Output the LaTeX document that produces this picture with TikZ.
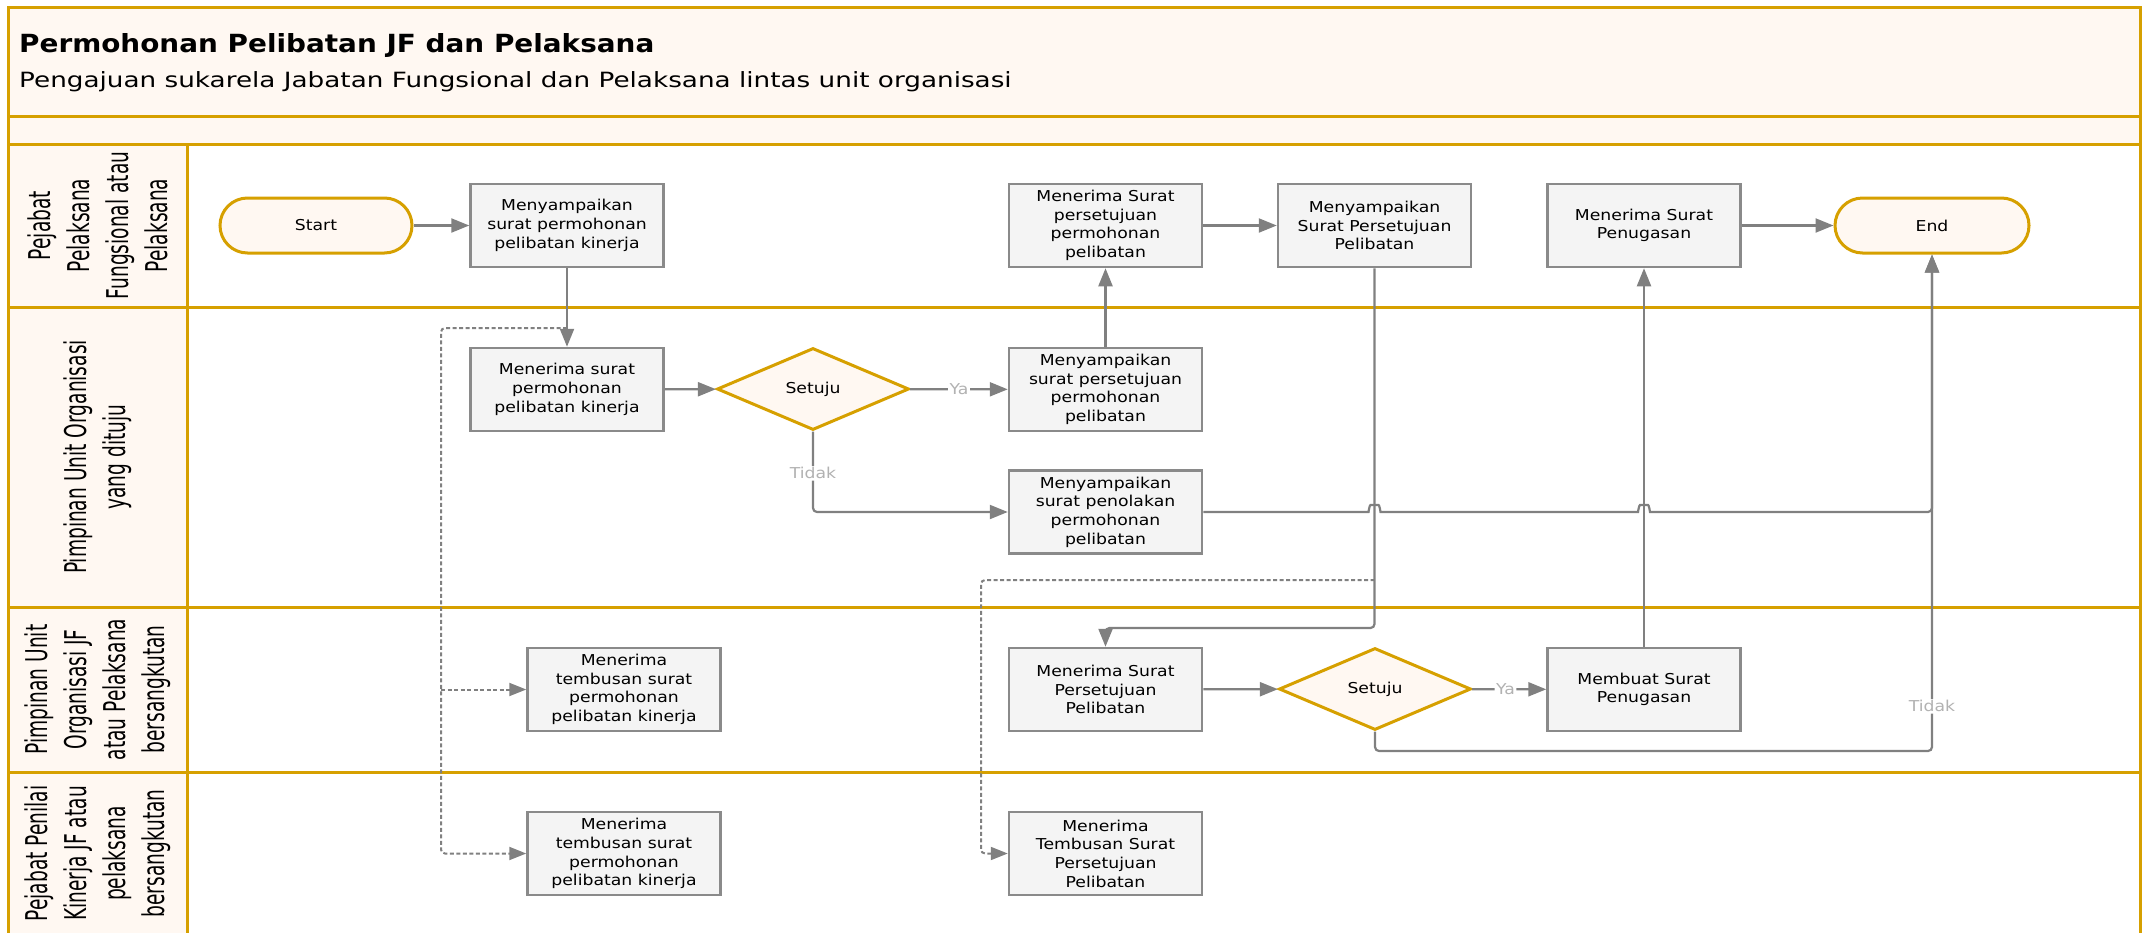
\documentclass[tikz,border=0pt]{standalone}
\usepackage{fontspec}
\setmainfont{DejaVu Sans}
\newfontfamily\boxfont[FakeStretch=1.15]{DejaVu Sans}
\newfontfamily\headfont[FakeStretch=1.115]{DejaVu Sans}
\newfontfamily\subfont[FakeStretch=1.25]{DejaVu Sans}
\newfontfamily\lanefont[FakeStretch=0.62]{DejaVu Sans}
\usetikzlibrary{arrows.meta,shapes.geometric,calc}

\definecolor{gold}{RGB}{214,160,0}
\definecolor{cream}{RGB}{255,248,242}
\definecolor{boxfill}{RGB}{244,244,244}
\definecolor{boxline}{RGB}{138,138,138}
\definecolor{wire}{RGB}{128,128,128}
\definecolor{faint}{RGB}{178,178,178}

\tikzset{
  frameline/.style={draw=gold, line width=3pt},
  proc/.style={draw=boxline, fill=boxfill, line width=2.5pt, minimum width=193pt,
    minimum height=83pt, inner sep=0pt, align=center,
    font=\boxfont\fontsize{15}{18.7}\selectfont},
  term/.style={draw=gold, fill=cream, line width=3pt, rounded corners=27.5pt,
    minimum width=192pt, minimum height=55pt, inner sep=0pt,
    font=\boxfont\fontsize{15}{18.7}\selectfont},
  decision/.style={diamond, draw=gold, fill=cream, line width=3pt, aspect=2.34,
    minimum width=192pt, minimum height=82pt, inner sep=0pt,
    font=\boxfont\fontsize{15}{18.7}\selectfont},
  lanelabel/.style={rotate=90, align=center, inner sep=0pt,
    font=\lanefont\fontsize{30}{39}\selectfont},
  conn/.style={draw=wire, line width=2.2pt, rounded corners=4pt,
    -{Triangle[length=18pt,width=14pt]}},
  dconn/.style={draw=wire, line width=2pt, rounded corners=4pt,
    dash pattern=on 4pt off 2.5pt,
    -{Triangle[length=17pt,width=13pt]}},
  lbl/.style={fill=white, text=faint, inner sep=1.5pt,
    font=\boxfont\fontsize{15}{18}\selectfont},
}

\begin{document}
\begin{tikzpicture}[x=1pt, y=-1pt]
\useasboundingbox (0,0) rectangle (2144,932);

% pool frame, header band and lane title column
\fill[cream] (8,7) rectangle (2140,144);
\fill[cream] (8,144) rectangle (187,945);
\draw[frameline] (8,945) -- (8,7) -- (2140,7) -- (2140,945);
\foreach \yy in {116,144,307,607,772}
  \draw[frameline] (8,\yy) -- (2140,\yy);
\draw[frameline] (187,144) -- (187,945);

% titles
\node[anchor=base west, inner sep=0pt, font=\headfont\bfseries\fontsize{25}{30}\selectfont]
  (title) at (19,52) {Permohonan Pelibatan JF dan Pelaksana};
\node[anchor=base west, inner sep=0pt, font=\subfont\fontsize{21}{25}\selectfont]
  (subtitle) at (19,87) {Pengajuan sukarela Jabatan Fungsional dan Pelaksana lintas unit organisasi};

% lane titles
\node[lanelabel] (lane1) at (97.5,225.5) {Pejabat\\Pelaksana\\Fungsional atau\\Pelaksana};
\node[lanelabel] (lane2) at (97.5,457) {Pimpinan Unit Organisasi\\yang dituju};
\node[lanelabel] (lane3) at (97.5,689.5) {Pimpinan Unit\\Organisasi JF\\atau Pelaksana\\bersangkutan};
\node[lanelabel] (lane4) at (97.5,853.5) {Pejabat Penilai\\Kinerja JF atau\\pelaksana\\bersangkutan};

% lane 1
\node[term] (start) at (316,225.5) {Start};
\node[proc] (p1) at (567,225.5) {Menyampaikan\\surat permohonan\\pelibatan kinerja};
\node[proc] (p2) at (1105.5,225.5) {Menerima Surat\\persetujuan\\permohonan\\pelibatan};
\node[proc] (p3) at (1374.5,225.5) {Menyampaikan\\Surat Persetujuan\\Pelibatan};
\node[proc] (p4) at (1644,225.5) {Menerima Surat\\Penugasan};
\node[term, minimum width=194pt] (end) at (1932,225.5) {End};

% lane 2
\node[proc] (q1) at (567,389.5) {Menerima surat\\permohonan\\pelibatan kinerja};
\node[decision] (d1) at (813,389) {Setuju};
\node[proc] (q2) at (1105.5,389.5) {Menyampaikan\\surat persetujuan\\permohonan\\pelibatan};
\node[proc] (q3) at (1105.5,512) {Menyampaikan\\surat penolakan\\permohonan\\pelibatan};

% lane 3
\node[proc] (r1) at (624,689.5) {Menerima\\tembusan surat\\permohonan\\pelibatan kinerja};
\node[proc] (r2) at (1105.5,689.5) {Menerima Surat\\Persetujuan\\Pelibatan};
\node[decision] (d2) at (1375,689) {Setuju};
\node[proc] (r3) at (1644,689.5) {Membuat Surat\\Penugasan};

% lane 4
\node[proc] (s1) at (624,853.5) {Menerima\\tembusan surat\\permohonan\\pelibatan kinerja};
\node[proc] (s2) at (1105.5,853.5) {Menerima\\Tembusan Surat\\Persetujuan\\Pelibatan};

% bends of the routed connectors
\coordinate (busA) at (441,328);
\coordinate (busB) at (981,580);

% copies (dashed)
\draw[dconn] (p1.south |- busA) -- (busA) -- (busA |- s1.west) -- (s1.west);
\draw[dconn] (busA |- r1.west) -- (r1.west);
\draw[dconn] (p3.south |- busB) -- (busB) -- (busB |- s2.west) -- (s2.west);

% main flow
\draw[conn] (start) -- (p1);
\draw[conn] (p1) -- (q1);
\draw[conn] (q1) -- (d1);
\draw[conn] (d1) -- node[lbl, pos=0.5] {Ya} (q2);
\draw[conn] (d1.south) |- node[lbl, pos=0.26] {Tidak} (q3.west);
\draw[conn] (q2) -- (p2);
\draw[conn] (p2) -- (p3);
\draw[conn] (p4) -- (end);
\draw[conn] (p3.south) -- (p3.south |- 0,628) -- (r2.north |- 0,628) -- (r2.north);
\draw[conn] (r2) -- (d2);
\draw[conn] (d2) -- node[lbl, pos=0.45] {Ya} (r3);
\draw[conn] (r3) -- (p4);
\draw[conn] (d2.south) -- (d2.south |- 0,751) -- (end.south |- 0,751)
  -- node[lbl, pos=0.09] {Tidak} (end.south);

% rejection path hopping over the two vertical connectors
\coordinate (x1) at (p3.south |- q3.east);
\coordinate (x2) at (r3.north |- q3.east);
\draw[conn] (q3.east) -- ($(x1)+(-10,0)$)
  .. controls ($(x1)+(-6,0)$) and ($(x1)+(-5,-7)$) .. ($(x1)+(0,-7)$)
  .. controls ($(x1)+(5,-7)$) and ($(x1)+(6,0)$) .. ($(x1)+(10,0)$)
  -- ($(x2)+(-10,0)$)
  .. controls ($(x2)+(-6,0)$) and ($(x2)+(-5,-7)$) .. ($(x2)+(0,-7)$)
  .. controls ($(x2)+(5,-7)$) and ($(x2)+(6,0)$) .. ($(x2)+(10,0)$)
  -- (end.south |- q3.east) -- (end.south);
\end{tikzpicture}
\end{document}
